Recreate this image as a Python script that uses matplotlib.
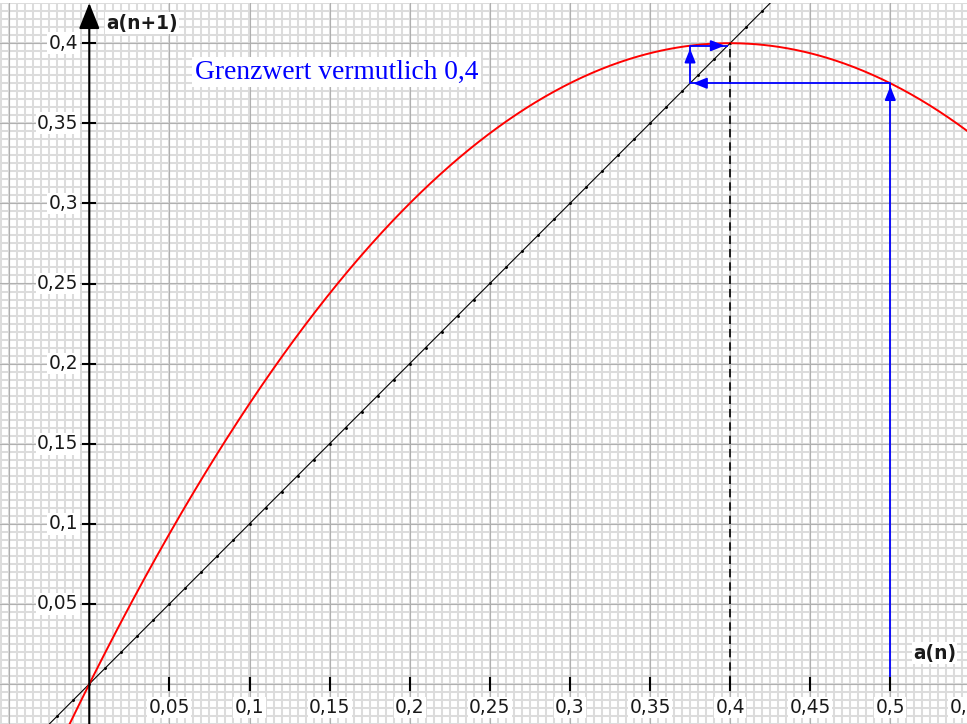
import numpy as np
import matplotlib
matplotlib.use("Agg")
import matplotlib.pyplot as plt

# Recursion a(n+1) = c1*a(n) + c2*a(n)^2
c1 = 2.0
c2 = -2.5

# Cobweb iterates starting at a(0) = 0.5
sequence = [0.5, 0.375, 0.3984375]
limit_value = 0.4

x_ticks = [0.05, 0.1, 0.15, 0.2, 0.25, 0.3, 0.35, 0.4, 0.45, 0.5, 0.55]
x_tick_labels = ["0,05", "0,1", "0,15", "0,2", "0,25", "0,3", "0,35", "0,4", "0,45", "0,5", "0,55"]
y_ticks = [0.05, 0.1, 0.15, 0.2, 0.25, 0.3, 0.35, 0.4]
y_tick_labels = ["0,05", "0,1", "0,15", "0,2", "0,25", "0,3", "0,35", "0,4"]

note_text = "Grenzwert vermutlich 0,4"

W, H = 967, 724
fig = plt.figure(figsize=(W / 100, H / 100), dpi=100)
fig.patch.set_facecolor("white")
ax = fig.add_axes([0, 0, 1, 721 / 724])
ax.set_axis_off()

ppu = 1602.0          # pixels per unit
x0_px, y0_px = 89.3, 684.0 - 3
xmin = -x0_px / ppu
xmax = (W - x0_px) / ppu
ymin = -(721 - y0_px) / ppu
ymax = y0_px / ppu
ax.set_xlim(xmin, xmax)
ax.set_ylim(ymin, ymax)

# millimetre-paper grid
minor = np.arange(-0.055, 0.5501, 0.005)
for v in minor:
    ax.axvline(v, color="#dcdcdc", lw=1.45, zorder=0)
    ax.axhline(v, color="#dcdcdc", lw=1.45, zorder=0)
major = np.arange(-0.05, 0.5501, 0.05)
for v in major:
    ax.axvline(v, color="#b0b0b0", lw=0.8, zorder=0.5)
    ax.axhline(v, color="#b0b0b0", lw=0.8, zorder=0.5)

# axes with arrow heads
ax.annotate("", xy=(xmax + 0.0005, 0), xytext=(xmin, 0),
            arrowprops=dict(arrowstyle="-|>,head_length=0.72,head_width=0.3",
                            mutation_scale=20, color="black", lw=1.5,
                            shrinkA=0, shrinkB=0), zorder=3)
ax.annotate("", xy=(0, ymax), xytext=(0, ymin),
            arrowprops=dict(arrowstyle="-|>,head_length=0.8,head_width=0.32",
                            mutation_scale=20, color="black", lw=1.5,
                            shrinkA=0, shrinkB=0), zorder=3)

tk = 6 / ppu
lbl_font = dict(family="DejaVu Sans", fontsize=13.4, color="#1a1a1a")
box = dict(facecolor="white", edgecolor="none", pad=1.0)
for v, s in zip(x_ticks, x_tick_labels):
    ax.plot([v, v], [-tk, tk], color="black", lw=1.5, zorder=3)
    ax.text(v, -14 / ppu, s, ha="center", va="top", bbox=box, zorder=4, **lbl_font)
for v, s in zip(y_ticks, y_tick_labels):
    ax.plot([-tk, tk], [v, v], color="black", lw=1.5, zorder=3)
    ax.text(-11 / ppu, v, s, ha="right", va="center", bbox=box, zorder=4, **lbl_font)

ax.text(17 / ppu, y0_px / ppu - 20 / ppu, "a(n+1)", ha="left", va="center",
        fontweight="bold", bbox=box, zorder=4, **lbl_font)
ax.text(0.5142, 31 / ppu, "a(n)", ha="left", va="center",
        fontweight="bold", bbox=box, zorder=4, **lbl_font)

# diagonal a(n+1) = a(n)
diag = np.arange(-0.06, 0.56, 0.01)
ax.plot(diag, diag, color="black", lw=0.8, marker="o", markersize=1.1,
        zorder=2)

# graph of the recursion function
xs = np.linspace(-0.03, 0.56, 600)
ax.plot(xs, c1 * xs + c2 * xs ** 2, color="#ff0000", lw=1.4, zorder=2)

# dashed line to the limit
ax.plot([limit_value, limit_value], [0, limit_value], color="black", lw=1.2,
        ls=(0, (5, 3)), zorder=2)

# cobweb path: up to the curve, across to the diagonal
path = [(sequence[0], 0.0)]
for a_cur, a_next in zip(sequence[:-1], sequence[1:]):
    path.append((a_cur, a_next))
    path.append((a_next, a_next))
px = [p[0] for p in path]
py = [p[1] for p in path]
ax.plot(px, py, color="#0000ff", lw=1.3, zorder=2.5, solid_capstyle="butt")

back = 3 / ppu
for (xa, ya), (xb, yb) in zip(path[:-1], path[1:]):
    d = np.hypot(xb - xa, yb - ya)
    ux, uy = (xb - xa) / d, (yb - ya) / d
    tip = (xb - ux * back, yb - uy * back)
    tail = (tip[0] - ux * 14 / ppu, tip[1] - uy * 14 / ppu)
    ax.annotate("", xy=tip, xytext=tail,
                arrowprops=dict(arrowstyle="-|>,head_length=0.55,head_width=0.22",
                                mutation_scale=15, color="#0000ff", lw=1.3,
                                shrinkA=0, shrinkB=0), zorder=2.6)

ax.text(0.1545, (y0_px - 72 + 3) / ppu, note_text, ha="center", va="center",
        family="Liberation Serif", fontsize=19.8, color="#0000ff",
        bbox=dict(facecolor="white", edgecolor="none", pad=2.0), zorder=4)

fig.savefig("out.png", dpi=100, facecolor="white")
